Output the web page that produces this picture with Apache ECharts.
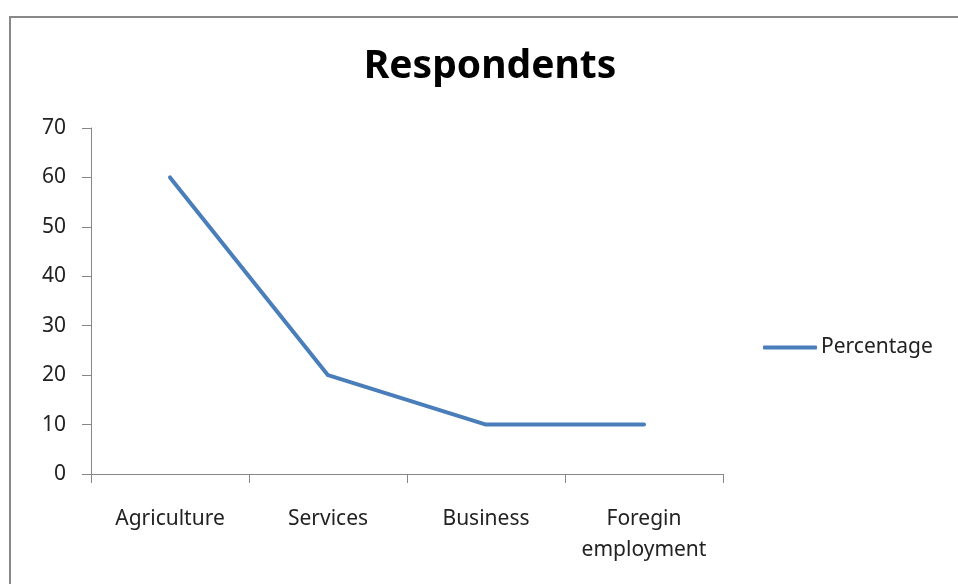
<!DOCTYPE html>
<html>
<head>
<meta charset="utf-8">
<script src="https://cdn.jsdelivr.net/npm/echarts@6/dist/echarts.min.js"></script>
<style>
  html, body { margin: 0; padding: 0; background: #ffffff; }
  #chart { width: 958px; height: 584px; }
</style>
</head>
<body>
<div id="chart"></div>
<script>
// Occupation categories and share of respondents (%)
const categories = ['Agriculture', 'Services', 'Business', 'Foregin\nemployment'];
const percentage = [60, 20, 10, 10];
const yTicks = { min: 0, max: 70, interval: 10 };

const font = '"Noto Sans", "Open Sans", sans-serif';
const axisGray = '#868686';

const chart = echarts.init(document.getElementById('chart'), null, { renderer: 'canvas' });

chart.setOption({
  animation: false,
  backgroundColor: '#ffffff',
  graphic: [{
    type: 'rect',
    shape: { x: 10, y: 17, width: 960, height: 600 },
    style: { fill: 'none', stroke: '#888888', lineWidth: 2 },
    silent: true
  }],
  title: {
    text: 'Respondents',
    left: 490,
    top: 47,
    padding: 0,
    textAlign: 'center',
    textStyle: { fontFamily: font, fontWeight: 'bold', fontSize: 39, color: '#000000' }
  },
  legend: {
    data: ['Percentage'],
    left: 763,
    top: 337,
    padding: 0,
    itemWidth: 54,
    itemHeight: 4,
    itemGap: 4,
    icon: 'roundRect',
    textStyle: { fontFamily: font, fontSize: 21, color: '#222222', padding: [0, 0, 0, -1] }
  },
  grid: { left: 91, right: 958 - 723, top: 128, bottom: 584 - 474, containLabel: false },
  xAxis: {
    type: 'category',
    data: categories,
    boundaryGap: true,
    axisLine: { lineStyle: { color: axisGray, width: 1 } },
    axisTick: { show: true, interval: 0, alignWithLabel: false, length: 9, lineStyle: { color: axisGray } },
    axisLabel: {
      interval: 0,
      fontFamily: font, fontSize: 21, color: '#222222', margin: 30, lineHeight: 31
    },
    splitLine: { show: false }
  },
  yAxis: {
    type: 'value',
    min: yTicks.min,
    max: yTicks.max,
    interval: yTicks.interval,
    axisLine: { show: true, lineStyle: { color: axisGray, width: 1 } },
    axisTick: { show: true, length: 9, lineStyle: { color: axisGray } },
    axisLabel: { fontFamily: font, fontSize: 21, color: '#222222', margin: 25 },
    splitLine: { show: false }
  },
  series: [{
    name: 'Percentage',
    type: 'line',
    data: percentage,
    showSymbol: false,
    symbol: 'none',
    lineStyle: { color: '#4a7ebb', width: 4, cap: 'round', join: 'round' },
    itemStyle: { color: '#4a7ebb' }
  }]
});
</script>
</body>
</html>
